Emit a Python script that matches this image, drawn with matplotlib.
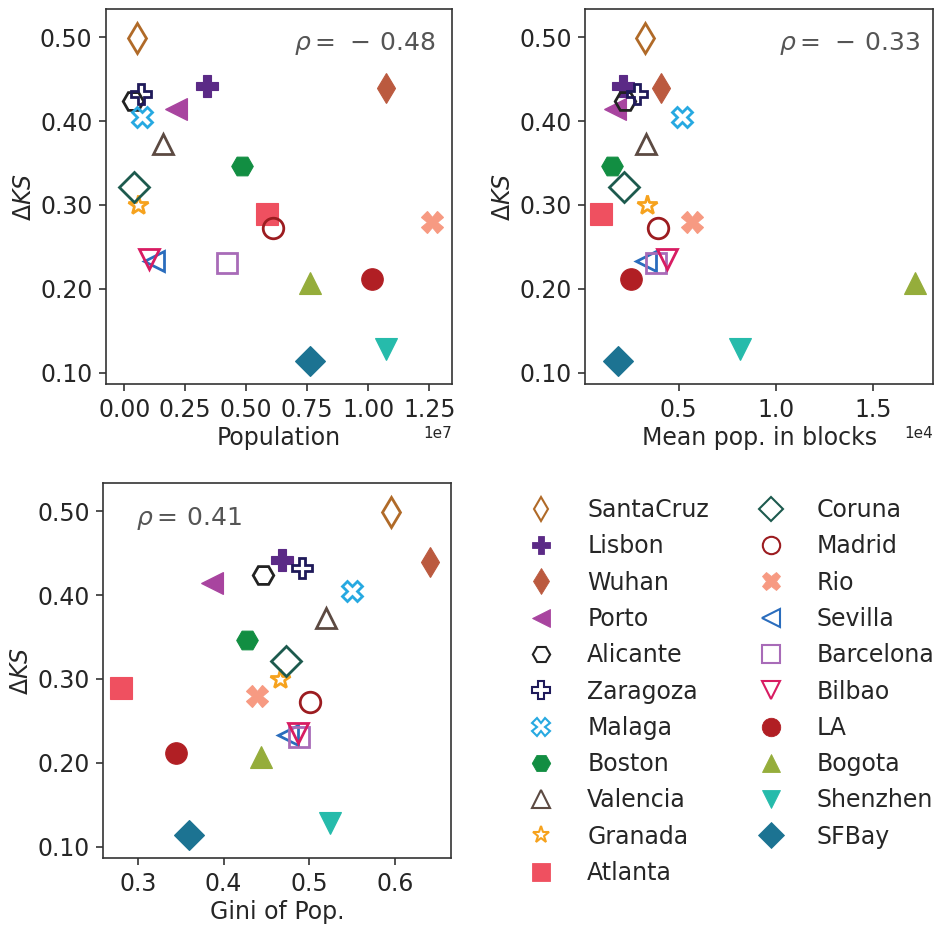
import matplotlib
matplotlib.use("Agg")
import matplotlib.pyplot as plt
from matplotlib.lines import Line2D

plt.rcParams["font.family"] = ["DejaVu Sans"]
plt.rcParams["mathtext.fontset"] = "dejavusans"

# city order also sets the legend order and drawing order
cities = ["SantaCruz", "Lisbon", "Wuhan", "Porto", "Alicante", "Zaragoza",
          "Malaga", "Boston", "Valencia", "Granada", "Atlanta", "Coruna",
          "Madrid", "Rio", "Sevilla", "Barcelona", "Bilbao", "LA", "Bogota",
          "Shenzhen", "SFBay"]

delta_ks = [0.499, 0.442, 0.440, 0.414, 0.424, 0.433, 0.405, 0.347, 0.373,
            0.300, 0.289, 0.321, 0.273, 0.280, 0.233, 0.231, 0.235, 0.212,
            0.207, 0.128, 0.114]

population = [0.53e6, 3.40e6, 10.72e6, 2.13e6, 0.37e6, 0.67e6, 0.74e6,
              4.84e6, 1.60e6, 0.55e6, 5.84e6, 0.41e6, 6.11e6, 12.62e6,
              1.23e6, 4.21e6, 1.03e6, 10.16e6, 7.61e6, 10.72e6, 7.61e6]

mean_block_pop = [3260, 2150, 4100, 1730, 2230, 2830, 5170, 1550, 3310,
                  3350, 990, 2200, 3920, 5700, 3330, 3830, 4380, 2530,
                  17160, 8140, 1890]

gini_pop = [0.595, 0.468, 0.641, 0.386, 0.446, 0.492, 0.550, 0.427, 0.520,
            0.466, 0.280, 0.473, 0.501, 0.439, 0.475, 0.488, 0.487, 0.344,
            0.444, 0.524, 0.360]

rho_labels = [r"$\rho =\,-\,0.48$", r"$\rho =\,-\,0.33$",
              r"$\rho =\,0.41$"]

markers = ["d", "P", "d", "<", "H", "P", "X", "H", "^", "*", "s", "D",
           "o", "X", "<", "s", "v", "o", "^", "v", "D"]
filled = [False, True, True, True, False, False, False, True, False, False,
          True, False, False, True, False, False, False, True, True, True,
          True]
colors = ["#b06a28", "#5b2a86", "#bb5a3f", "#a8449f", "#222222", "#1f1a5a",
          "#27a9e1", "#128e42", "#5c4a42", "#f6a21d", "#ef5060", "#1d5a4e",
          "#9c1c20", "#f79a82", "#2a6dbd", "#a86bb8", "#d81c62", "#b11f24",
          "#95ad3b", "#26bbab", "#1c7392"]

TEXT = "#262626"
SPINE = "#333333"
FS = 17

fig = plt.figure(figsize=(9.41, 9.27), dpi=100)
ax_pop = fig.add_axes([0.1123, 0.5854, 0.3683, 0.4046])
ax_blk = fig.add_axes([0.6217, 0.5854, 0.3701, 0.4046])
ax_gin = fig.add_axes([0.1098, 0.0741, 0.3695, 0.4045])


def draw_points(ax, xs):
    for x, y, m, c, f in zip(xs, delta_ks, markers, colors, filled):
        if f:
            ax.plot([x], [y], linestyle="none", marker=m, ms=15.5,
                    color=c, mec=c, mew=0.8)
        else:
            ax.plot([x], [y], linestyle="none", marker=m, ms=14.8,
                    mfc="none", mec=c, mew=2.0)


def style(ax, xlabel):
    ax.set_ylim(0.086, 0.5335)
    ax.set_yticks([0.1, 0.2, 0.3, 0.4, 0.5])
    ax.set_yticklabels(["0.10", "0.20", "0.30", "0.40", "0.50"])
    ax.set_xlabel(xlabel, fontsize=FS, color=TEXT, labelpad=3)
    ax.set_ylabel(r"$\Delta KS$", fontsize=FS, color=TEXT, labelpad=3)
    ax.tick_params(axis="both", labelsize=FS, colors=TEXT, length=5,
                   width=1.2, pad=4.5, direction="out", color=SPINE)
    for sp in ax.spines.values():
        sp.set_color(SPINE)
        sp.set_linewidth(1.2)
    ax.xaxis.get_offset_text().set_fontsize(11)
    ax.xaxis.get_offset_text().set_color(TEXT)


draw_points(ax_pop, population)
style(ax_pop, "Population")
ax_pop.set_xlim(-0.076e7, 1.344e7)
ax_pop.set_xticks([0, 0.25e7, 0.5e7, 0.75e7, 1.0e7, 1.25e7])
ax_pop.ticklabel_format(axis="x", style="sci", scilimits=(0, 0))
ax_pop.text(0.95, 0.91, rho_labels[0], transform=ax_pop.transAxes,
            ha="right", va="center", fontsize=18, color="#555555")

draw_points(ax_blk, mean_block_pop)
style(ax_blk, "Mean pop. in blocks")
ax_blk.set_xlim(0.017e4, 1.812e4)
ax_blk.set_xticks([0.5e4, 1.0e4, 1.5e4])
ax_blk.ticklabel_format(axis="x", style="sci", scilimits=(0, 0))
ax_blk.text(0.962, 0.91, rho_labels[1], transform=ax_blk.transAxes,
            ha="right", va="center", fontsize=18, color="#555555")

draw_points(ax_gin, gini_pop)
style(ax_gin, "Gini of Pop.")
ax_gin.set_xlim(0.2595, 0.6657)
ax_gin.set_xticks([0.3, 0.4, 0.5, 0.6])
ax_gin.set_xticklabels(["0.3", "0.4", "0.5", "0.6"])
ax_gin.text(0.094, 0.907, rho_labels[2], transform=ax_gin.transAxes,
            ha="left", va="center", fontsize=18, color="#555555")

handles = []
for name, m, c, f in zip(cities, markers, colors, filled):
    if f:
        h = Line2D([], [], linestyle="none", marker=m, ms=13.3, color=c,
                   mec=c, mew=0.6, label=name)
    else:
        h = Line2D([], [], linestyle="none", marker=m, ms=12.5, mfc="none",
                   mec=c, mew=1.5, label=name)
    handles.append(h)

fig.legend(handles=handles, ncol=2, loc="upper left",
           bbox_to_anchor=(0.55, 0.4626), frameon=False, fontsize=FS,
           labelcolor=TEXT, handletextpad=0.95, labelspacing=0.52,
           columnspacing=1.62, borderaxespad=0, borderpad=0)

fig.savefig("out.png", dpi=100)
